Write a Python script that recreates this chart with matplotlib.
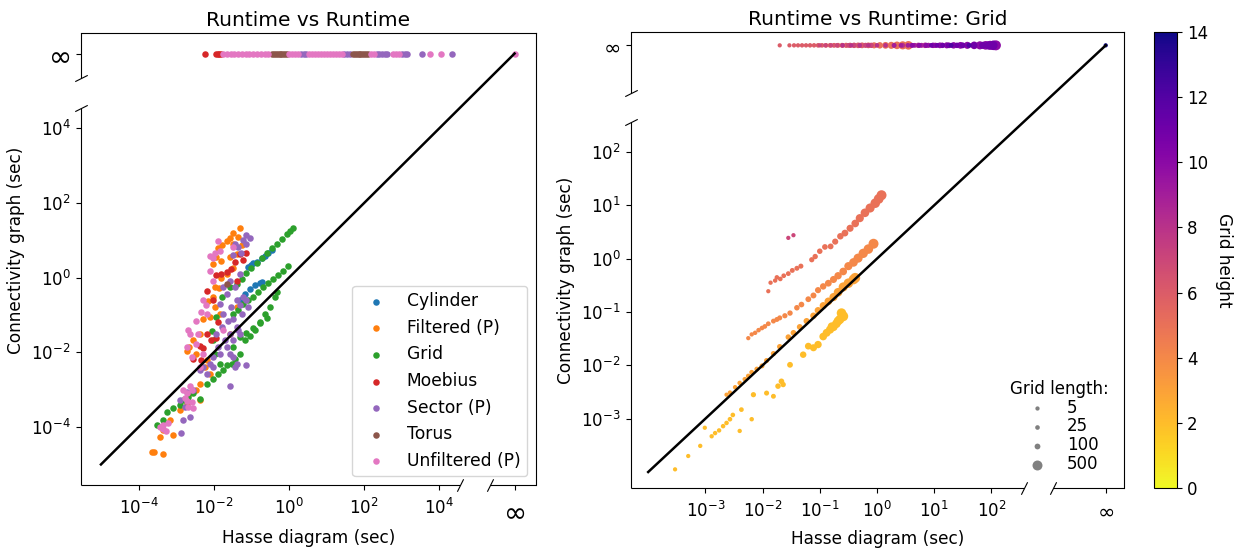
import numpy as np
import matplotlib
matplotlib.use("Agg")
import matplotlib.pyplot as plt
from matplotlib.ticker import FixedLocator, FixedFormatter, NullLocator

# Все значения: log10(секунды). Точки с "бесконечным" временем - отдельными списками.

# --- Левая панель: все семейства ---
cyl_hasse = [-1.08, -0.95, -0.86, -0.73, -0.64, -0.55, -0.46, -1.30, -1.17, -1.04, -0.90, -0.77, -0.73, -1.00]
cyl_conn = [0.29, 0.38, 0.43, 0.52, 0.59, 0.66, 0.74, -0.59, -0.44, -0.31, -0.20, -0.13, -0.11, 0.33]

filt_hasse = [-1.30, -1.48, -1.35, -1.57, -1.66, -1.77, -1.88, -1.48, -1.93, -1.82, -2.01, -1.57, -1.39, -1.26,
              -1.97, -1.86, -1.82, -2.01, -2.15, -1.97, -1.84, -2.10, -2.28, -2.37, -2.55, -2.65, -2.72, -2.46,
              -2.19, -2.24, -2.10, -2.37, -2.46, -2.63, -2.37, -2.72, -2.90, -3.16, -3.34, -3.08, -3.43, -3.65,
              -3.59, -3.34, -1.66, -1.48, -1.39, -1.57]
filt_conn = [1.32, 1.20, 1.09, 1.06, 0.98, 0.87, 0.79, 0.90, 0.56, 0.45, 0.36, 0.56, 0.63, 0.88,
             -0.24, -0.28, -0.01, -0.52, -0.63, -0.79, -0.97, -1.06, -1.10, -1.50, -1.68, -1.86, -1.97, -2.04,
             -2.21, -2.39, -2.57, -2.84, -3.00, -3.10, -3.28, -3.37, -3.55, -3.80, -4.08, -4.21, -4.26, -4.68,
             -4.68, -4.72, 0.10, 0.27, -0.79, -1.50]

grid_hasse = [-1.39, -1.26, -1.13, -1.00, -0.86, -0.73, -0.59, -0.46, -0.33, -0.19, -0.06, 0.02, 0.11,
              -1.48, -1.35, -1.21, -1.08, -0.95, -0.82, -0.68, -0.55, -0.42, -0.28, -0.15, -0.02,
              -1.17, -1.04, -0.90, -0.77, -0.64, -0.50, -0.37, -0.33,
              -1.30, -1.13, -0.95, -0.77, -0.59,
              -3.52, -3.34, -3.25, -3.08, -2.90, -2.81, -2.68, -2.55, -2.37, -2.19, -2.01, -1.88, -1.75,
              -1.66, -1.52, -1.44, -1.30, -1.84, -1.97, -2.06, -1.93, -1.79, -1.57, -2.01, -1.48]
grid_conn = [-0.17, -0.04, 0.13, 0.27, 0.40, 0.54, 0.67, 0.79, 0.90, 1.03, 1.16, 1.25, 1.33,
             -0.97, -0.86, -0.70, -0.59, -0.52, -0.39, -0.26, -0.15, -0.03, 0.08, 0.19, 0.31,
             -1.68, -1.55, -1.41, -1.19, -0.97, -0.79, -0.52, -0.39,
             -1.60, -1.48, -1.36, -1.22, -1.08,
             -3.95, -3.81, -3.59, -3.50, -3.41, -3.28, -3.19, -3.10, -3.24, -2.84, -2.70, -2.57, -2.48,
             -2.35, -2.30, -2.17, -2.04, -2.30, -2.04, -1.42, -1.06, -0.52, -0.26, -1.68, -1.86]

moeb_hasse = [-2.19, -1.93, -1.82, -1.66, -1.55, -1.30, -1.23, -1.44, -1.13, -2.01, -1.88, -2.17, -2.37,
              -2.08, -2.55, -2.35, -1.93, -1.37, -2.28]
moeb_conn = [-0.35, 0.08, 0.10, 0.14, 0.23, 0.63, 0.47, 0.43, 0.67, -0.61, -1.19, -1.50, -1.84,
             -1.68, -2.17, -2.21, -1.61, -0.08, -1.88]
moeb_inf_hasse = [-2.23, -1.94, -1.90, -1.85, -1.81]

sect_hasse = [-1.13, -1.04, -1.21, -1.35, -1.48, -1.28, -1.13, -1.43,
              -1.57, -1.44, -1.30, -1.23, -1.39, -1.66, -1.75, -1.53, -1.75, -1.61, -1.48, -1.79, -1.57,
              -1.39, -1.70, -1.88, -1.84, -1.66, -2.01, -2.10, -2.28, -2.19, -2.37, -2.01, -1.48, -1.30,
              -1.13, -1.08, -1.57, -1.39, -1.35, -1.84, -1.93,
              -2.90, -2.77, -2.63, -2.83, -2.86, -2.55, -2.72, -1.30, -1.26, -1.57, -1.48, -1.44, -1.13]
sect_conn = [1.14, 1.07, 1.00, 0.81, 0.61, 0.67, 0.90, 0.91,
             -0.08, -0.26, 0.10, -0.52, -0.61, -0.44, -0.26, -0.79, -0.97, -1.15, -1.10, -1.32, -1.50,
             -1.32, -1.68, -1.86, -2.04, -1.86, -2.12, -2.30, -2.39, -2.57, -2.48, -2.39, -1.68, -1.50,
             -0.61, -0.79, -2.89, -2.30, -1.41, -0.70, -1.50,
             -3.28, -3.46, -3.72, -3.80, -4.17, -3.01, -3.06, -0.72, -0.97, -2.04, -2.12, -2.39, -2.35]
sect_inf_hasse = [0.32, 0.40, 0.46, 1.46, 1.55, 1.62, 2.33, 2.40, 2.47, 2.55, 2.62, 3.00, 3.08, 3.15, 3.55, 4.33]

tor_hasse = [-1.66]
tor_conn = [-0.17]
tor_inf_hasse = [-0.45, -0.40, -0.35, -0.30, -0.25, -0.20, -0.15, -0.10, -0.05,
                 1.70, 1.75, 1.80, 1.85, 1.90, 1.95, 2.00, 2.05, 2.10]

unf_hasse = [-1.88, -2.10, -1.97, -2.01, -1.84, -1.48, -2.10, -2.28, -2.21, -2.35, -2.46, -2.41, -2.63,
             -2.68, -2.72, -2.46, -2.59, -2.28, -2.37, -2.63, -2.59, -2.72, -2.77, -2.70, -2.59, -2.68,
             -2.55, -2.81, -3.34, -3.34, -3.28, -3.23, -3.43, -2.01, -2.19, -1.75]
unf_conn = [0.99, 0.59, 0.67, 0.52, 0.72, 0.81, 0.19, -0.61, -0.72, -0.93, -1.15, -1.50, -1.50,
            -1.39, -1.86, -1.77, -2.12, -2.04, -2.39, -2.89, -3.01, -3.10, -3.21, -3.30, -3.32, -3.46,
            -3.50, -3.01, -3.95, -4.04, -4.10, -3.90, -3.99, -0.08, -0.97, -1.41]
unf_inf_hasse = [-1.75, -1.65, -1.55, -1.45, -1.35, -1.25, -1.15, -1.05, -0.95, -0.85, -0.75, -0.65, -0.55,
                 0.00, 0.08, 0.16, 0.24, 0.52, 0.60, 0.68, 0.76, 0.84, 0.92, 1.00, 1.08, 1.16, 1.24,
                 1.32, 1.40, 2.18, 2.26, 2.76, 2.85, 2.93, 3.74, 4.05, np.inf]

categories = ['Cylinder', 'Filtered (P)', 'Grid', 'Moebius', 'Sector (P)', 'Torus', 'Unfiltered (P)']

# --- Правая панель: только Grid (высота -> цвет, длина -> размер) ---
h2_hasse = [-3.53, -3.30, -3.09, -3.01, -2.89, -2.83, -2.76, -2.69, -2.63, -2.57, -2.52, -2.40, -2.37, -2.19,
            -2.16, -1.93, -1.81, -1.73, -1.64, -1.67, -1.52, -1.29, -1.20, -1.11, -1.03, -0.94, -0.88,
            -0.82, -0.76, -0.71, -0.65, -0.62, -0.59, -0.68, -0.79]
h2_conn = [-3.95, -3.70, -3.51, -3.17, -3.33, -3.27, -3.22, -3.14, -3.08, -3.01, -2.93, -3.23, -2.83, -3.01,
           -2.55, -2.52, -2.58, -2.39, -2.36, -2.30, -1.99, -1.80, -1.64, -1.67, -1.61, -1.46, -1.39,
           -1.33, -1.28, -1.22, -1.14, -1.02, -1.08, -1.17, -1.27]
h2_len = [5, 5, 10, 5, 10, 15, 15, 20, 20, 25, 25, 10, 30, 15,
          60, 50, 40, 80, 70, 90, 100, 150, 175, 200, 225, 250, 275, 300, 325, 350, 400, 450, 500, 375, 300]

h3_hasse = [-2.63, -2.57, -2.48, -2.40, -2.31, -2.25, -2.19, -2.10, -2.01, -1.93, -1.81, -1.70, -1.55,
            -1.46, -1.35, -1.23, -1.11, -1.03, -0.94, -0.85, -0.76, -0.68, -0.59, -0.50, -0.41, -0.38]
h3_conn = [-2.55, -2.51, -2.41, -2.33, -2.26, -2.20, -2.13, -2.07, -2.01, -1.91, -1.78, -1.65, -1.47,
           -1.39, -1.28, -1.17, -1.07, -0.97, -0.88, -0.80, -0.72, -0.63, -0.53, -0.46, -0.39, -0.36]
h3_len = [5, 10, 15, 20, 25, 30, 35, 40, 45, 50, 60, 70, 80, 90, 100, 125, 150, 175, 200, 250, 300,
          350, 400, 450, 475, 500]

h4_hasse = [-2.25, -2.19, -2.13, -2.07, -2.01, -1.96, -1.90, -1.81, -1.75, -1.70, -1.61, -1.52, -1.40, -1.32,
            -1.20, -1.11, -1.03, -0.94, -0.85, -0.76, -0.68, -0.59, -0.50, -0.41, -0.33, -0.24, -0.15, -0.06]
h4_conn = [-1.49, -1.42, -1.39, -1.34, -1.30, -1.27, -1.22, -1.17, -1.14, -1.11, -1.07, -1.02, -0.92, -0.86,
           -0.76, -0.69, -0.59, -0.52, -0.46, -0.39, -0.32, -0.24, -0.14, -0.07, 0.01, 0.10, 0.18, 0.28]
h4_len = [5, 10, 15, 20, 25, 30, 35, 40, 45, 50, 60, 70, 80, 90, 100, 110, 125, 150, 175, 200, 225, 250,
          300, 350, 400, 425, 450, 500]

h5_hasse = [-1.90, -1.86, -1.78, -1.75, -1.69, -1.63, -1.55, -1.48, -1.40, -1.33, -1.14, -1.08, -1.00,
            -0.91, -0.81, -0.73, -0.64, -0.56, -0.47, -0.38, -0.30, -0.21, -0.12, -0.03, 0.03, 0.08]
h5_conn = [-0.61, -0.45, -0.41, -0.35, -0.38, -0.32, -0.28, -0.22, -0.18, -0.14, -0.02, 0.04, 0.14,
           0.22, 0.23, 0.32, 0.42, 0.48, 0.57, 0.66, 0.76, 0.86, 0.95, 1.04, 1.12, 1.19]
h5_len = [5, 10, 15, 20, 25, 30, 35, 40, 45, 50, 60, 70, 80, 90, 100, 125, 150, 175, 200, 250, 300,
          350, 400, 450, 475, 500]

h7_hasse = [-1.55, -1.46]
h7_conn = [0.39, 0.44]
h7_len = [5, 5]

# связность не досчиталась (inf)
inf_hasse = [-1.70, -1.53, -1.45, -1.38, -1.31, -1.24, -1.17, -1.10, -1.03, -0.96, -0.89, -0.82, -0.75,
             -0.68, -0.61, -0.54, -0.47, -0.40, -0.33, -0.26,
             -0.15, -0.05, 0.05, 0.15, 0.25, 0.35, 0.45, 0.55,
             -1.00, -0.90, -0.80, -0.70, -0.60, -0.50, -0.40, -0.30, -0.20, -0.10,
             -0.60, -0.45, -0.30, -0.15, 0.00, 0.15, 0.30, 0.45, 0.60, 0.72, 0.84,
             0.30, 0.42, 0.54, 0.66, 0.78, 0.90, 1.02, 1.14, 1.26,
             0.62, 0.74, 0.86, 0.98, 1.10, 1.22, 1.34, 1.46, 1.58, 1.70, 1.80, 1.90, 1.98, 2.04, 2.08,
             0.95, 1.05, 1.15, 1.25, 1.40, 1.50, 1.70, 1.85, 1.95, 2.03,
             1.30, 1.61]
inf_height = [6] * 20 + [5] * 8 + [7] * 10 + [8] * 11 + [9] * 9 + [10] * 15 + [11] * 10 + [12] * 2
inf_len = [5, 5, 10, 10, 15, 15, 20, 20, 25, 25, 30, 35, 40, 45, 50, 60, 70, 80, 90, 100,
           100, 125, 150, 175, 200, 250, 300, 350,
           5, 10, 15, 20, 25, 30, 40, 50, 60, 70,
           5, 10, 15, 20, 25, 30, 40, 50, 60, 70, 80,
           20, 25, 30, 40, 50, 60, 70, 80, 90,
           40, 50, 60, 80, 100, 125, 150, 175, 200, 250, 300, 350, 400, 450, 500,
           30, 40, 50, 60, 80, 100, 150, 200, 300, 400,
           40, 60]

legend_lengths = [5, 25, 100, 500]


def to_sec(exps, inf_pos):
    v = np.asarray(exps, dtype=float)
    return np.where(np.isinf(v), 10.0 ** inf_pos, 10.0 ** v)


def point_size(lengths):
    return 9 + 0.085 * np.asarray(lengths, dtype=float)


def style_broken(ax, xlim, ylim, xbreak, ybreak, inf_pos, ticks, labels, inf_size):
    ax.set_xscale('log')
    ax.set_yscale('log')
    ax.set_xlim(10.0 ** xlim[0], 10.0 ** xlim[1])
    ax.set_ylim(10.0 ** ylim[0], 10.0 ** ylim[1])
    pos = [10.0 ** t for t in ticks] + [10.0 ** inf_pos]
    for axis in (ax.xaxis, ax.yaxis):
        axis.set_major_locator(FixedLocator(pos))
        axis.set_major_formatter(FixedFormatter(labels))
        axis.set_minor_locator(NullLocator())
    ax.tick_params(axis='x', pad=6)
    ax.tick_params(axis='y', pad=4)
    for t in ax.xaxis.get_major_ticks()[-1:] + ax.yaxis.get_major_ticks()[-1:]:
        t.label1.set_fontsize(inf_size)

    # ломаные оси: левая и нижняя
    ax.spines['left'].set_visible(False)
    ax.spines['bottom'].set_visible(False)
    kw = dict(color='k', lw=0.8, clip_on=False, solid_capstyle='butt')
    ty = ax.get_yaxis_transform()
    tx = ax.get_xaxis_transform()
    ax.plot([0, 0], [10.0 ** ylim[0], 10.0 ** ybreak[0]], transform=ty, **kw)
    ax.plot([0, 0], [10.0 ** ybreak[1], 10.0 ** ylim[1]], transform=ty, **kw)
    ax.plot([10.0 ** xlim[0], 10.0 ** xbreak[0]], [0, 0], transform=tx, **kw)
    ax.plot([10.0 ** xbreak[1], 10.0 ** xlim[1]], [0, 0], transform=tx, **kw)
    mk = dict(ls='none', ms=9, mec='k', mew=0.8, clip_on=False)
    ax.plot([0, 0], [10.0 ** b for b in ybreak], transform=ty, marker=[(-1, -0.5), (1, 0.5)], **mk)
    ax.plot([10.0 ** b for b in xbreak], [0, 0], transform=tx, marker=[(-0.5, -1), (0.5, 1)], **mk)


plt.rcParams['font.size'] = 12
fig = plt.figure(figsize=(12.39, 5.5), dpi=100)
ax1 = fig.add_axes([0.0654, 0.1182, 0.3672, 0.8218])
ax2 = fig.add_axes([0.5093, 0.1127, 0.3979, 0.8291])
cax = fig.add_axes([0.9314, 0.1127, 0.0186, 0.8291])

# ---------- левая панель ----------
INF1 = 6.0
series = [
    (cyl_hasse, cyl_conn, []),
    (filt_hasse, filt_conn, []),
    (grid_hasse, grid_conn, []),
    (moeb_hasse, moeb_conn, moeb_inf_hasse),
    (sect_hasse, sect_conn, sect_inf_hasse),
    (tor_hasse, tor_conn, tor_inf_hasse),
    (unf_hasse, unf_conn, unf_inf_hasse),
]
for i, ((hx, cy, hinf), name) in enumerate(zip(series, categories)):
    x = np.concatenate([to_sec(hx, INF1), to_sec(hinf, INF1)])
    y = np.concatenate([to_sec(cy, INF1), np.full(len(hinf), 10.0 ** INF1)])
    ax1.scatter(x, y, s=22, color=f'C{i}', linewidths=0, label=name, zorder=2)

ax1.plot([1e-5, 10.0 ** INF1], [1e-5, 10.0 ** INF1], color='k', lw=1.8, zorder=3)
style_broken(ax1, (-5.53, 6.57), (-5.55, 6.55), (4.55, 5.35), (4.55, 5.35), INF1,
             [-4, -2, 0, 2, 4],
             ['$10^{-4}$', '$10^{-2}$', '$10^{0}$', '$10^{2}$', '$10^{4}$', '$\\infty$'], 20)
ax1.set_title('Runtime vs Runtime', fontsize=14.5, pad=5)
ax1.set_xlabel('Hasse diagram (sec)', fontsize=12.2)
ax1.xaxis.set_label_coords(0.5, -0.098)
ax1.set_ylabel('Connectivity graph (sec)', fontsize=12.2)
ax1.yaxis.label.set_y(0.518)
ax1.legend(loc='lower right', fontsize=12.3)

# ---------- правая панель ----------
INF2 = 4.0
gx = np.concatenate([to_sec(a, INF2) for a in (h2_hasse, h3_hasse, h4_hasse, h5_hasse, h7_hasse, inf_hasse)]
                    + [[10.0 ** INF2]])
gy = np.concatenate([to_sec(a, INF2) for a in (h2_conn, h3_conn, h4_conn, h5_conn, h7_conn)]
                    + [np.full(len(inf_hasse) + 1, 10.0 ** INF2)])
gh = np.array([2] * len(h2_hasse) + [3] * len(h3_hasse) + [4] * len(h4_hasse) + [5] * len(h5_hasse)
              + [7] * len(h7_hasse) + inf_height + [14])
gl = np.concatenate([h2_len, h3_len, h4_len, h5_len, h7_len, inf_len, [5]])

sc = ax2.scatter(gx, gy, c=gh, s=point_size(gl), cmap='plasma_r', vmin=0, vmax=14,
                 linewidths=0, zorder=2)
ax2.plot([1e-4, 10.0 ** INF2], [1e-4, 10.0 ** INF2], color='k', lw=1.8, zorder=3)
style_broken(ax2, (-4.3, 4.32), (-4.3, 4.25), (2.57, 3.08), (2.57, 3.1), INF2,
             [-3, -2, -1, 0, 1, 2],
             ['$10^{-3}$', '$10^{-2}$', '$10^{-1}$', '$10^{0}$', '$10^{1}$', '$10^{2}$', '$\\infty$'], 15)
ax2.set_title('Runtime vs Runtime: Grid', fontsize=14.5, pad=5)
ax2.set_xlabel('Hasse diagram (sec)', fontsize=12.2)
ax2.xaxis.set_label_coords(0.5, -0.092)
ax2.set_ylabel('Connectivity graph (sec)', fontsize=12.2)
ax2.yaxis.label.set_y(0.456)

handles = [ax2.scatter([], [], s=point_size([n])[0], color='gray', linewidths=0) for n in legend_lengths]
ax2.legend(handles, [str(n) for n in legend_lengths], title='Grid length:', loc='lower right',
           frameon=False, fontsize=12, title_fontsize=12, labelspacing=0.05)

cb = fig.colorbar(sc, cax=cax)
cb.set_ticks(range(0, 15, 2))
cb.set_label('Grid height', rotation=270, labelpad=18, fontsize=12.2)

fig.savefig('out.png', dpi=100)
